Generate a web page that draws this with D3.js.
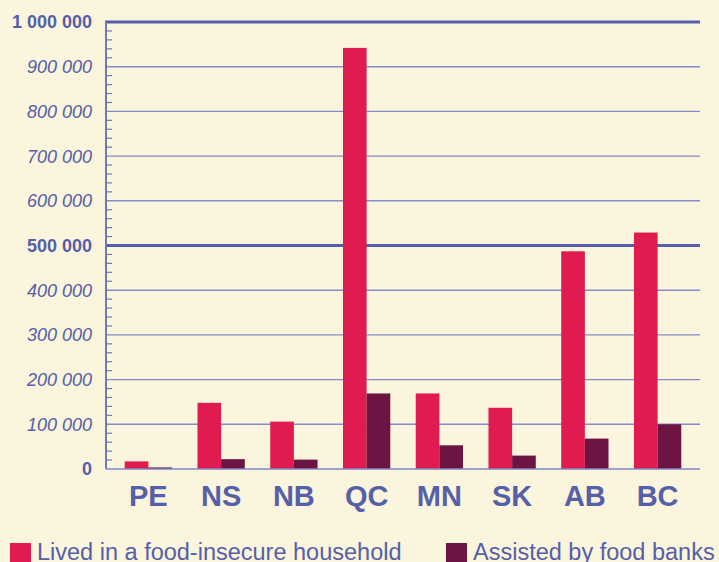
<!DOCTYPE html>
<html>
<head>
<meta charset="utf-8">
<script src="https://cdn.jsdelivr.net/npm/d3@7"></script>
<style>
  body { margin: 0; background: #faf5dc; }
  svg { display: block; font-family: "Liberation Sans", Arial, sans-serif; }
</style>
</head>
<body>
<svg id="chart"></svg>
<script>
// Provinces and the two series
const provinces = ['PE', 'NS', 'NB', 'QC', 'MN', 'SK', 'AB', 'BC'];
const insecure = [17000, 148000, 106000, 942000, 169000, 137000, 487000, 529000];
const foodBanks = [3500, 22000, 21000, 169000, 53000, 30000, 68000, 100000];
const seriesNames = ['Lived in a food-insecure household', 'Assisted by food banks'];
const yTicks = [0, 100000, 200000, 300000, 400000, 500000, 600000, 700000, 800000, 900000, 1000000];
const boldTicks = [0, 500000, 1000000];

const width = 719, height = 562;
const ink = '#5560a8';
const colors = ['#e01b50', '#6c1442'];

const svg = d3.select('#chart')
  .attr('width', width)
  .attr('height', height);

svg.append('rect')
  .attr('width', width)
  .attr('height', height)
  .attr('fill', '#faf5dc');

const y = d3.scaleLinear()
  .domain([0, 1000000])
  .range([469, 22]);

const x = d3.scaleBand()
  .domain(provinces)
  .range([112, 694])
  .paddingInner(0.35)
  .paddingOuter(0.175);

const xSub = d3.scaleBand()
  .domain([0, 1])
  .range([0, x.bandwidth()]);

const axisLeft = 106, gridRight = 700;

// Gridlines (heavier at 500 000 and 1 000 000)
svg.append('g')
  .selectAll('line')
  .data(yTicks.filter(d => d > 0))
  .join('line')
    .attr('x1', axisLeft)
    .attr('x2', gridRight)
    .attr('y1', d => y(d))
    .attr('y2', d => y(d))
    .attr('stroke', d => d % 500000 === 0 ? '#5660aa' : '#838bc8')
    .attr('stroke-width', d => d % 500000 === 0 ? 3 : 1.4);

// Bars
const data = provinces.map((p, i) => ({ p, vals: [insecure[i], foodBanks[i]] }));

svg.append('g')
  .selectAll('g')
  .data(data)
  .join('g')
    .attr('transform', d => `translate(${x(d.p)},0)`)
  .selectAll('rect')
  .data(d => d.vals)
  .join('rect')
    .attr('x', (d, i) => xSub(i))
    .attr('width', xSub.bandwidth())
    .attr('y', d => y(d))
    .attr('height', d => y(0) - y(d))
    .attr('fill', (d, i) => colors[i]);

// Minor ticks every 20 000
const minor = d3.range(20000, 1000000, 20000).filter(d => d % 100000 !== 0);
svg.append('g')
  .selectAll('line')
  .data(minor)
  .join('line')
    .attr('x1', axisLeft)
    .attr('x2', axisLeft + 6)
    .attr('y1', d => y(d))
    .attr('y2', d => y(d))
    .attr('stroke', '#6f78b8')
    .attr('stroke-width', 1.2);

// Axis lines
svg.append('line')
  .attr('x1', axisLeft).attr('x2', axisLeft)
  .attr('y1', y(1000000) - 1.5).attr('y2', y(0))
  .attr('stroke', '#6f78b8')
  .attr('stroke-width', 2);

svg.append('line')
  .attr('x1', axisLeft).attr('x2', gridRight)
  .attr('y1', y(0)).attr('y2', y(0))
  .attr('stroke', '#7f87c4')
  .attr('stroke-width', 1.6);

// Y tick labels
const fmt = d => d3.format(',')(d).replace(/,/g, ' ');
svg.append('g')
  .selectAll('text')
  .data(yTicks)
  .join('text')
    .attr('x', 92)
    .attr('y', d => y(d))
    .attr('dy', '0.36em')
    .attr('text-anchor', 'end')
    .attr('fill', ink)
    .style('font-size', '18px')
    .style('font-style', d => boldTicks.includes(d) ? 'normal' : 'italic')
    .style('font-weight', d => boldTicks.includes(d) ? 'bold' : 'normal')
    .text(fmt);

// Province labels
svg.append('g')
  .selectAll('text')
  .data(provinces)
  .join('text')
    .attr('x', d => x(d) + x.bandwidth() / 2)
    .attr('y', 506)
    .attr('text-anchor', 'middle')
    .attr('fill', ink)
    .style('font-size', '29px')
    .style('font-weight', 'bold')
    .text(d => d);

// Legend
const legendX = [10, 446];
const legend = svg.append('g')
  .selectAll('g')
  .data(seriesNames)
  .join('g')
    .attr('transform', (d, i) => `translate(${legendX[i]},543)`);

legend.append('rect')
  .attr('width', 21)
  .attr('height', 21)
  .attr('fill', (d, i) => colors[i]);

legend.append('text')
  .attr('x', 27)
  .attr('y', 17)
  .attr('fill', ink)
  .style('font-size', '23.5px')
  .text(d => d);
</script>
</body>
</html>
